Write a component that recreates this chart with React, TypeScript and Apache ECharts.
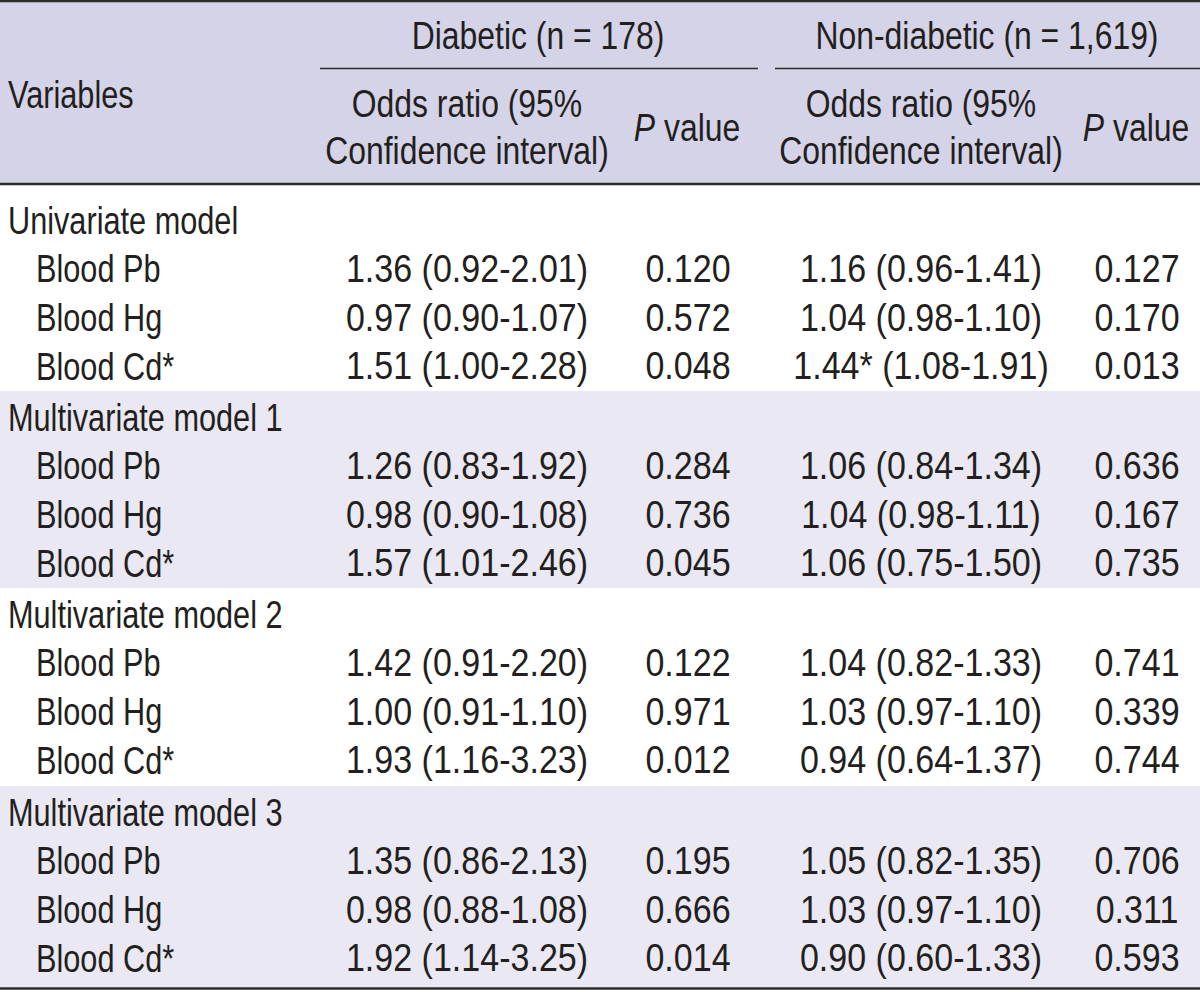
import React, { useEffect, useRef } from "react";
import * as echarts from "echarts";

// ---- data ----
const modelNames = ["Univariate model", "Multivariate model 1", "Multivariate model 2", "Multivariate model 3"];
const variableNames = ["Blood Pb", "Blood Hg", "Blood Cd*"];

const diabeticOR = [[1.36, 0.97, 1.51], [1.26, 0.98, 1.57], [1.42, 1.0, 1.93], [1.35, 0.98, 1.92]];
const diabeticLo = [[0.92, 0.9, 1.0], [0.83, 0.9, 1.01], [0.91, 0.91, 1.16], [0.86, 0.88, 1.14]];
const diabeticHi = [[2.01, 1.07, 2.28], [1.92, 1.08, 2.46], [2.2, 1.1, 3.23], [2.13, 1.08, 3.25]];
const diabeticP = [[0.12, 0.572, 0.048], [0.284, 0.736, 0.045], [0.122, 0.971, 0.012], [0.195, 0.666, 0.014]];

const nonDiabeticOR = [[1.16, 1.04, 1.44], [1.06, 1.04, 1.06], [1.04, 1.03, 0.94], [1.05, 1.03, 0.9]];
const nonDiabeticLo = [[0.96, 0.98, 1.08], [0.84, 0.98, 0.75], [0.82, 0.97, 0.64], [0.82, 0.97, 0.6]];
const nonDiabeticHi = [[1.41, 1.1, 1.91], [1.34, 1.11, 1.5], [1.33, 1.1, 1.37], [1.35, 1.1, 1.33]];
const nonDiabeticP = [[0.127, 0.17, 0.013], [0.636, 0.167, 0.735], [0.741, 0.339, 0.744], [0.706, 0.311, 0.593]];
// cells whose odds ratio carries an asterisk: [model, variable]
const nonDiabeticStarred = [[0, 2]];

const groupHeaders = ["Diabetic (n = 178)", "Non-diabetic (n = 1,619)"];

// ---- layout / style ----
const FONT = "'Liberation Sans', Arial, sans-serif";
const FS = 39;
const TEXT = "#231f20";
const HEAD_BG = "#d4d3e7";
const BAND_BG = "#e9e8f3";
const LINE = "#2b2b2b";
const SX_WORD = 0.787;
const SX_NUM = 0.873;
const SX_HEAD = 0.818;

const colOR = [467, 921];
const colP = [688, 1137];
const bandTops = [185, 391, 588, 786, 988];
const rowStep = 48.6;

function txt(x: number, y: number, text: string, align: string, sx: number, extra: any = {}) {
  return {
    type: "text",
    x,
    y,
    scaleX: sx,
    style: {
      x: 0,
      y: 0,
      text,
      fill: TEXT,
      fontFamily: FONT,
      fontSize: FS,
      align,
      verticalAlign: "middle",
      ...extra,
    },
  };
}

function fmtOR(or: number, lo: number, hi: number, star: boolean) {
  return `${or.toFixed(2)}${star ? "*" : ""} (${lo.toFixed(2)}-${hi.toFixed(2)})`;
}

export default function App() {
  const ref = useRef<HTMLDivElement>(null);
  useEffect(() => {
    document.body.style.margin = "0";
    const chart = echarts.init(ref.current!, null, { renderer: "svg" });
    const els: any[] = [];
    // backgrounds
    els.push({ type: "rect", shape: { x: 0, y: 0, width: 1200, height: 185 }, style: { fill: HEAD_BG } });
    for (let k = 0; k < 4; k++) {
      els.push({
        type: "rect",
        shape: { x: 0, y: bandTops[k], width: 1200, height: bandTops[k + 1] - bandTops[k] },
        style: { fill: k % 2 === 1 ? BAND_BG : "#ffffff" },
      });
    }
    // rules
    const hline = (x1: number, x2: number, y: number, w: number) => ({
      type: "line",
      shape: { x1, y1: y, x2, y2: y },
      style: { stroke: LINE, lineWidth: w },
    });
    els.push(hline(0, 1200, 1, 2.5));
    els.push(hline(0, 1200, 184, 2.5));
    els.push(hline(0, 1200, 988.5, 2.5));
    els.push(hline(320, 758, 68.5, 1.6));
    els.push(hline(775, 1200, 68.5, 1.6));

    // header texts
    els.push(txt(538, 36, groupHeaders[0], "center", SX_HEAD));
    els.push(txt(987, 36, groupHeaders[1], "center", SX_HEAD));
    els.push(txt(8, 94, "Variables", "left", SX_WORD));
    const pRich = {
      rich: {
        i: { fontStyle: "italic", fontSize: FS, fontFamily: FONT, fill: TEXT },
        n: { fontSize: FS, fontFamily: FONT, fill: TEXT },
      },
    };
    for (let g = 0; g < 2; g++) {
      els.push(txt(colOR[g], 104, "Odds ratio (95%", "center", SX_HEAD));
      els.push(txt(colOR[g], 151, "Confidence interval)", "center", SX_HEAD));
      els.push(txt(colP[g] - 1, 128, "{i|P}{n| value}", "center", SX_HEAD, pRich));
    }

    // body
    for (let k = 0; k < 4; k++) {
      const titleY = k === 0 ? 220 : bandTops[k] + 26;
      els.push(txt(8, titleY, modelNames[k], "left", SX_WORD));
      for (let i = 0; i < 3; i++) {
        const y = titleY + (i + 1) * rowStep;
        els.push(txt(36, y, variableNames[i], "left", SX_WORD));
        els.push(txt(colOR[0], y, fmtOR(diabeticOR[k][i], diabeticLo[k][i], diabeticHi[k][i], false), "center", SX_NUM));
        els.push(txt(colP[0], y, diabeticP[k][i].toFixed(3), "center", SX_NUM));
        const star = nonDiabeticStarred.some(([a, b]) => a === k && b === i);
        els.push(txt(colOR[1], y, fmtOR(nonDiabeticOR[k][i], nonDiabeticLo[k][i], nonDiabeticHi[k][i], star), "center", SX_NUM));
        els.push(txt(colP[1], y, nonDiabeticP[k][i].toFixed(3), "center", SX_NUM));
      }
    }

    chart.setOption({ animation: false, graphic: { elements: els } });
    return () => chart.dispose();
  }, []);
  return <div ref={ref} style={{ width: 1200, height: 992 }} />;
}
